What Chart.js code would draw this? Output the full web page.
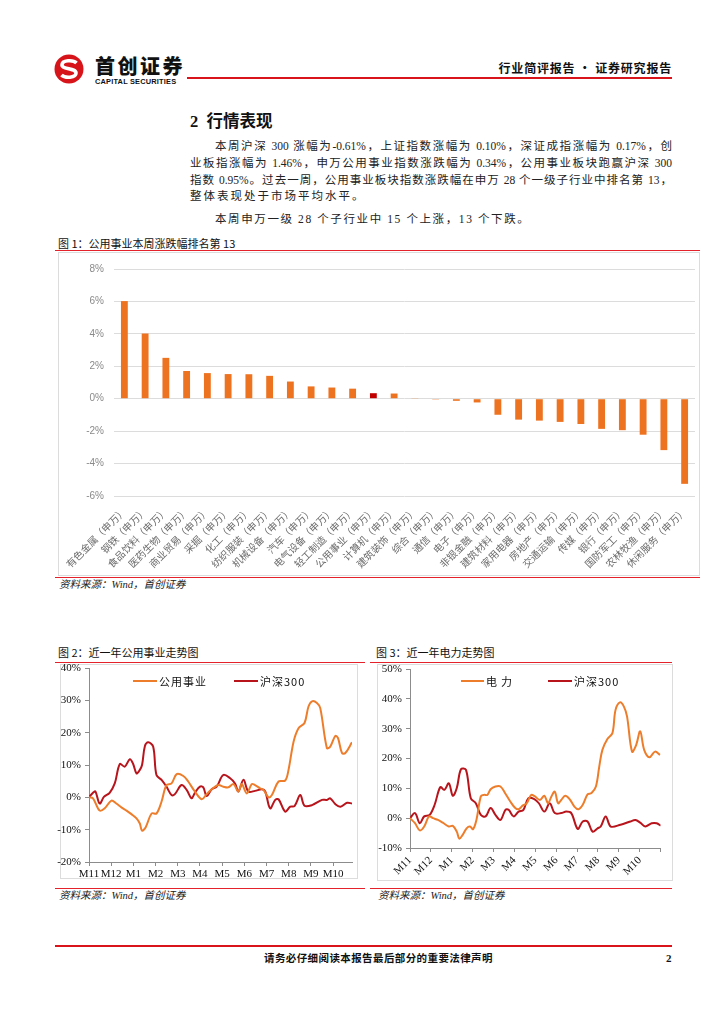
<!DOCTYPE html>
<html>
<head>
<meta charset="utf-8">
<script src="https://cdn.jsdelivr.net/npm/chart.js@4.4.0/dist/chart.umd.min.js"></script>
<style>
    body { margin: 0; width: 724px; height: 1024px; background: #fff; position: relative; overflow: hidden;
        font-family: "Liberation Serif", "Noto Sans CJK SC", serif; color: #111; }
    .abs { position: absolute; white-space: nowrap; }
    .redline { position: absolute; background: #e3222c; height: 1px; }
    .box { position: absolute; border: 1px solid #dcdcdc; box-sizing: border-box; }
    .para { position: absolute; left: 190px; width: 482px; font-size: 11.5px; line-height: 16px; white-space: nowrap;
        text-align: justify; text-align-last: justify; color: #222; }
    .caption { position: absolute; font-size: 11px; line-height: 14px; font-family: "Noto Sans CJK SC", sans-serif; white-space: nowrap; }
    .source { position: absolute; font-size: 10.5px; line-height: 14px; font-style: italic; white-space: nowrap; color: #222; }
    .lg { position: absolute; font-size: 11px; line-height: 14px; font-family: "Noto Sans CJK SC", sans-serif; white-space: nowrap; letter-spacing: 1px; }
    .lgline { position: absolute; height: 2px; }
    canvas { position: absolute; }
</style>
</head>
<body>

<!-- header -->
<svg class="abs" style="left:54px;top:54px" width="30" height="30" viewBox="0 0 30 30">
    <circle cx="15" cy="15" r="14.5" fill="#d7141a"/>
    <path d="M22.5 9 C19 5.5 8 6 8 11 C8 15.5 22 14 22 19 C22 24 11 24.5 7.5 21" fill="none" stroke="#fff" stroke-width="3.6"/>
</svg>
<div class="abs" style="left:95px;top:55px;font-family:'Noto Sans CJK SC';font-weight:900;font-size:20px;line-height:22px;letter-spacing:2.5px;color:#111">首创证券</div>
<div class="abs" style="left:95px;top:78px;font-family:'Liberation Sans';font-weight:bold;font-size:7.4px;line-height:8px;letter-spacing:0.2px;color:#111">CAPITAL SECURITIES</div>
<div class="abs" style="left:187px;top:77px;width:485px;height:2px;background:#d9141b"></div>
<div class="abs" style="right:52px;top:60px;font-family:'Noto Sans CJK SC';font-weight:bold;font-size:12px;line-height:16px;letter-spacing:0.8px">行业简评报告 · 证券研究报告</div>

<!-- section text -->
<div class="abs" style="left:190px;top:112px;font-family:'Liberation Serif','Noto Sans CJK SC';font-weight:bold;font-size:16.5px;line-height:20px">2&nbsp;&nbsp;行情表现</div>
<div class="para" style="left:215px;width:457px;top:138px">本周沪深 300 涨幅为-0.61%，上证指数涨幅为 0.10%，深证成指涨幅为 0.17%，创</div>
<div class="para" style="top:155px">业板指涨幅为 1.46%，申万公用事业指数涨跌幅为 0.34%，公用事业板块跑赢沪深 300</div>
<div class="para" style="top:172px">指数 0.95%。过去一周，公用事业板块指数涨跌幅在申万 28 个一级子行业中排名第 13，</div>
<div class="para" style="top:188px;text-align:left;text-align-last:left;letter-spacing:2px">整体表现处于市场平均水平。</div>
<div class="para" style="left:215px;top:211px;text-align:left;text-align-last:left;letter-spacing:1.6px">本周申万一级 28 个子行业中 15 个上涨，13 个下跌。</div>

<!-- figure 1 -->
<div class="caption" style="left:58px;top:236px">图 1：公用事业本周涨跌幅排名第 13</div>
<div class="redline" style="left:55px;top:250px;width:645px"></div>
<div class="box" style="left:58px;top:252px;width:642px;height:324px"></div>
<canvas id="chart1" width="642" height="322" style="left:58px;top:253px"></canvas>
<div class="redline" style="left:55px;top:577px;width:645px"></div>
<div class="source" style="left:59px;top:578px">资料来源：Wind，首创证券</div>

<!-- figure 2 -->
<div class="caption" style="left:58px;top:645px">图 2：近一年公用事业走势图</div>
<div class="redline" style="left:55px;top:662px;width:310px"></div>
<div class="box" style="left:60px;top:664px;width:298px;height:215px"></div>
<canvas id="chart2" width="302" height="232" style="left:55px;top:650px"></canvas>
<div class="lgline" style="left:133px;top:680px;width:24px;background:#ee7d2b"></div>
<div class="lg" style="left:159px;top:674px">公用事业</div>
<div class="lgline" style="left:234px;top:680px;width:24px;background:#b8141c"></div>
<div class="lg" style="left:260px;top:674px">沪深300</div>
<div class="redline" style="left:55px;top:888px;width:310px"></div>
<div class="source" style="left:59px;top:889px">资料来源：Wind，首创证券</div>

<!-- figure 3 -->
<div class="caption" style="left:376px;top:645px">图 3：近一年电力走势图</div>
<div class="redline" style="left:370px;top:662px;width:302px"></div>
<div class="box" style="left:377px;top:664px;width:296px;height:217px"></div>
<canvas id="chart3" width="300" height="232" style="left:372px;top:650px"></canvas>
<div class="lgline" style="left:461px;top:680px;width:23px;background:#ee7d2b"></div>
<div class="lg" style="left:486px;top:674px;letter-spacing:4px">电力</div>
<div class="lgline" style="left:548px;top:680px;width:24px;background:#b8141c"></div>
<div class="lg" style="left:574px;top:674px">沪深300</div>
<div class="redline" style="left:370px;top:888px;width:302px"></div>
<div class="source" style="left:378px;top:889px">资料来源：Wind，首创证券</div>

<!-- footer -->
<div class="abs" style="left:55px;top:945px;width:617px;height:2px;background:#d9141b"></div>
<div class="abs" style="left:264px;top:951px;font-family:'Noto Sans CJK SC';font-weight:bold;font-size:10.5px;line-height:14px;letter-spacing:0.4px">请务必仔细阅读本报告最后部分的重要法律声明</div>
<div class="abs" style="left:666px;top:951px;font-weight:bold;font-size:11px;line-height:14px">2</div>

<script>
// figure 1: weekly change of SW level-1 industries (%)
const industries = [
    '有色金属（申万）', '钢铁（申万）', '食品饮料（申万）', '医药生物（申万）', '商业贸易（申万）',
    '采掘（申万）', '化工（申万）', '纺织服装（申万）', '机械设备（申万）', '汽车（申万）',
    '电气设备（申万）', '轻工制造（申万）', '公用事业（申万）', '计算机（申万）', '建筑装饰（申万）',
    '综合（申万）', '通信（申万）', '电子（申万）', '非银金融（申万）', '建筑材料（申万）',
    '家用电器（申万）', '房地产（申万）', '交通运输（申万）', '传媒（申万）', '银行（申万）',
    '国防军工（申万）', '农林牧渔（申万）', '休闲服务（申万）'
];
const weeklyChange = [
    6.02, 4.02, 2.52, 1.71, 1.58,
    1.52, 1.51, 1.41, 1.06, 0.76,
    0.69, 0.62, 0.34, 0.32, 0.02,
    -0.05, -0.13, -0.23, -0.99, -1.29,
    -1.35, -1.43, -1.56, -1.86, -1.94,
    -2.22, -3.17, -5.25
];
const highlight = '公用事业（申万）';

// figures 2 and 3: month ticks
const monthLabels = ['M11', 'M12', 'M1', 'M2', 'M3', 'M4', 'M5', 'M6', 'M7', 'M8', 'M9', 'M10'];

// figure 2: utilities index vs CSI 300, cumulative change (%)
const util2X = [0, 0.18, 0.48, 0.71, 1.01, 1.23, 1.46, 1.69, 1.91, 2.14, 2.29, 2.39, 2.55, 2.82, 3.04, 3.27, 3.49, 3.72, 3.95, 4.25,
    4.47, 4.77, 5.08, 5.30, 5.53, 5.83, 6.05, 6.28, 6.51, 6.73, 6.88, 7.11, 7.33, 7.48, 7.71, 7.86, 8.09, 8.24, 8.54, 8.84,
    8.99, 9.22, 9.44, 9.71, 9.89, 10.05, 10.27, 10.42, 10.72, 10.87, 11.10, 11.22, 11.40, 11.55, 11.85];
const util2Y = [0, -0.3, -4.1, -3.4, -1.0, -1.9, -3.1, -4.1, -5.2, -6.5, -8.1, -10.3, -9.3, -5.0, -5.0, -1.3, 3.8, 4.3, 7.2, 6.6,
    4.9, 1.8, -0.6, 1.0, 2.5, 3.8, 3.3, 3.1, 4.1, 1.8, 4.1, 1.2, 4.1, 3.8, 2.8, 2.3, 0, 0.7, 4.9, 5.2,
    8.5, 17.3, 21.4, 23.0, 28.1, 29.7, 29.2, 27.6, 15.2, 15.7, 19.0, 18.3, 13.7, 13.7, 17.0];
const hs2X = [0, 0.18, 0.29, 0.48, 0.68, 0.93, 1.16, 1.39, 1.61, 1.84, 1.99, 2.14, 2.29, 2.39, 2.52, 2.67, 2.89, 3.04, 3.27, 3.49,
    3.72, 3.87, 4.17, 4.40, 4.62, 4.77, 5.00, 5.15, 5.30, 5.53, 5.75, 6.05, 6.36, 6.58, 6.73, 6.96, 7.18, 7.48, 7.79, 7.94,
    8.16, 8.39, 8.54, 8.84, 9.07, 9.26, 9.52, 9.71, 10.05, 10.50, 10.72, 10.87, 11.10, 11.33, 11.63, 11.85];
const hs2Y = [0, 1.4, 1.8, -1.9, 0.2, 1.4, 4.3, 10.3, 9.5, 11.8, 10.3, 7.4, 8.5, 10.0, 15.9, 17.0, 15.7, 6.9, 5.4, 3.3,
    0.7, 1.0, 3.8, 2.3, -0.3, 1.4, 3.3, 3.1, 0.4, 2.5, 3.3, 6.9, 5.9, 4.3, 1.8, 5.4, 1.8, 2.0, 2.5, 1.8,
    -3.4, -0.8, -0.6, -4.4, -2.9, -2.7, 0.7, -2.6, -2.4, -0.8, -0.8, -0.3, -2.1, -2.9, -1.7, -1.9];

// figure 3: power index vs CSI 300, cumulative change (%)
const power3X = [0, 0.24, 0.47, 0.68, 0.91, 1.10, 1.34, 1.57, 1.86, 2.05, 2.24, 2.36, 2.52, 2.71, 2.87, 3.02, 3.18, 3.39, 3.54, 3.70,
    3.86, 4.09, 4.33, 4.57, 4.80, 5.04, 5.20, 5.39, 5.59, 5.80, 5.98, 6.22, 6.43, 6.61, 6.77, 6.93, 7.09, 7.24, 7.43, 7.64,
    7.87, 8.06, 8.27, 8.50, 8.69, 8.90, 9.06, 9.21, 9.45, 9.69, 9.84, 10.05, 10.24, 10.39, 10.63, 10.83, 11.02, 11.21, 11.46, 11.73, 11.97];
const power3Y = [0, -1.7, -4.1, -2.8, 0.6, 0, -0.6, -1.5, -2.8, -2.6, -4.5, -6.9, -5.6, -3.4, -2.8, -3.7, -0.6, 7.3, 7.8, 7.8,
    9.7, 10.6, 10.6, 8.2, 5.6, 3.4, 3.0, 4.2, 5.0, 7.8, 7.3, 6.1, 7.5, 5.0, 7.3, 8.9, 5.0, 6.1, 7.5, 6.4,
    3.9, 3.0, 4.5, 8.0, 8.4, 10.6, 17.3, 22.9, 26.5, 28.5, 36.3, 38.8, 37.4, 34.1, 22.3, 24.6, 29.1, 22.9, 20.4, 22.3, 21.2];
const hs3X = [0, 0.24, 0.47, 0.68, 0.94, 1.18, 1.45, 1.65, 1.86, 2.05, 2.24, 2.44, 2.68, 2.91, 3.15, 3.39, 3.62, 3.86, 4.09, 4.33,
    4.57, 4.72, 4.96, 5.20, 5.43, 5.67, 5.95, 6.17, 6.43, 6.69, 6.93, 7.24, 7.48, 7.72, 8.03, 8.27, 8.50, 8.74, 8.98, 9.13,
    9.37, 9.61, 10.08, 10.55, 10.79, 11.02, 11.26, 11.57, 11.81, 12.0];
const hs3Y = [0, 1.7, -1.7, 0.6, 1.1, 4.5, 10.4, 9.5, 11.7, 7.5, 10.1, 16.4, 16.2, 6.7, 5.0, 1.1, 0.6, 3.4, 1.1, -0.6,
    2.8, 2.8, 0.6, 2.2, 2.8, 6.7, 6.4, 5.0, 2.2, 5.0, 1.7, 1.7, 2.2, 1.7, -3.6, -1.1, -1.1, -4.5, -3.4, -2.8,
    0.6, -2.8, -2.2, -1.1, -0.6, -1.5, -2.8, -1.7, -1.7, -2.5];

const orange = '#ee7320';
const lineOrange = '#ee7d2b';
const darkRed = '#b8141c';
const cjk = "'Noto Sans CJK SC', sans-serif";
const serif = "'Liberation Serif', serif";

const toPoints = (xs, ys) => xs.map((x, i) => ({ x: x, y: ys[i] }));

Chart.defaults.animation = false;
Chart.defaults.plugins.tooltip.enabled = false;

// figure 1
new Chart(document.getElementById('chart1'), {
    type: 'bar',
    data: {
        labels: industries,
        datasets: [{
            data: weeklyChange,
            backgroundColor: industries.map(name => name === highlight ? '#c00000' : orange),
            barPercentage: 0.33,
            categoryPercentage: 1
        }]
    },
    options: {
        responsive: false,
        layout: { padding: { top: 12, right: 5, left: 0, bottom: 0 } },
        plugins: { legend: { display: false } },
        scales: {
            x: {
                grid: { display: false },
                border: { display: false },
                ticks: {
                    autoSkip: false, minRotation: 45, maxRotation: 45, padding: 1,
                    color: '#6b6b6b', font: { family: cjk, size: 10 }
                },
                afterFit: scale => { scale.height = 79; }
            },
            y: {
                min: -6,
                max: 8,
                ticks: {
                    stepSize: 2, padding: 10, color: '#8a8a8a',
                    font: { family: "'Liberation Sans', sans-serif", size: 10 },
                    callback: v => v + '%'
                },
                grid: { color: '#dcdcdc', drawTicks: false },
                border: { display: false },
                afterFit: scale => { scale.width = 56; }
            }
        }
    }
});

const trendOptions = (yMin, yMax, xMax, rotate, pad, yWidth, xHeight) => ({
    responsive: false,
    layout: { padding: pad },
    plugins: { legend: { display: false } },
    elements: { point: { radius: 0 }, line: { borderWidth: 2, tension: 0.35 } },
    scales: {
        x: {
            type: 'linear',
            min: 0,
            max: xMax,
            grid: { drawOnChartArea: false, tickLength: 4, color: '#8c8c8c' },
            border: { color: '#8c8c8c' },
            ticks: {
                stepSize: 1, includeBounds: false, autoSkip: false,
                minRotation: rotate, maxRotation: rotate, padding: 2,
                color: '#111', font: { family: serif, size: 11 },
                callback: v => monthLabels[v] || ''
            },
            afterFit: scale => { scale.height = xHeight; }
        },
        y: {
            min: yMin,
            max: yMax,
            grid: { drawOnChartArea: false, tickLength: 4, color: '#8c8c8c' },
            border: { color: '#8c8c8c' },
            ticks: {
                stepSize: 10, padding: 4, color: '#111',
                font: { family: serif, size: 11 },
                callback: v => v + '%'
            },
            afterFit: scale => { scale.width = yWidth; }
        }
    }
});

// figure 2
new Chart(document.getElementById('chart2'), {
    type: 'line',
    data: {
        datasets: [
            { label: '公用事业', data: toPoints(util2X, util2Y), borderColor: lineOrange },
            { label: '沪深300', data: toPoints(hs2X, hs2Y), borderColor: darkRed }
        ]
    },
    options: trendOptions(-20, 40, 11.85, 0, { top: 18, right: 5, left: 0, bottom: 0 }, 34, 20)
});

// figure 3
new Chart(document.getElementById('chart3'), {
    type: 'line',
    data: {
        datasets: [
            { label: '电力', data: toPoints(power3X, power3Y), borderColor: lineOrange },
            { label: '沪深300', data: toPoints(hs3X, hs3Y), borderColor: darkRed }
        ]
    },
    options: trendOptions(-10, 50, 12, 45, { top: 19, right: 8, left: 0, bottom: 0 }, 38, 34)
});
</script>
</body>
</html>
